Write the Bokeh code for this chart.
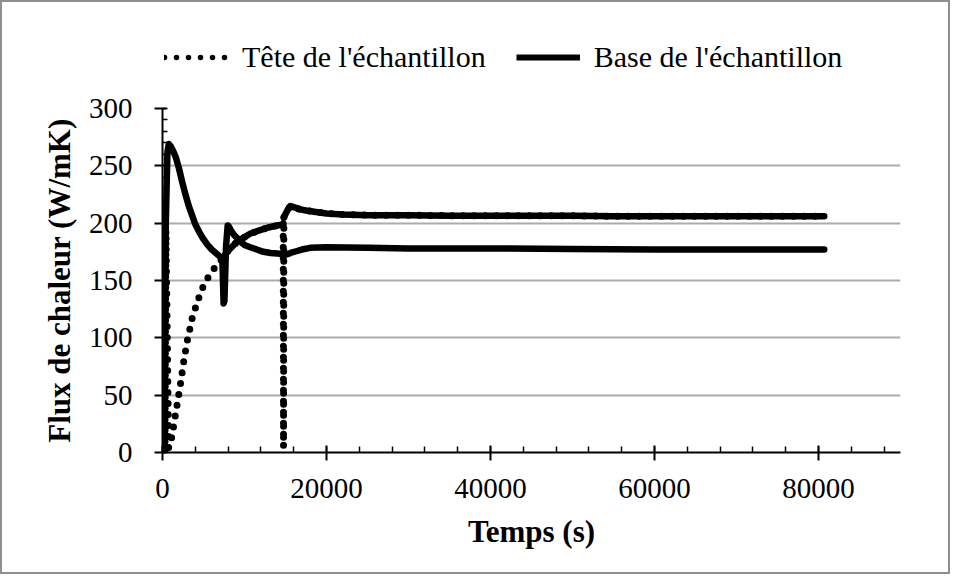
from bokeh.plotting import figure
from bokeh.layouts import column
from bokeh.models import (Range1d, SingleIntervalTicker, BasicTickFormatter,
                          Legend, LegendItem)
from bokeh.embed import file_html
from bokeh.resources import INLINE

# ---- data ----
# "Tête de l'échantillon" (dotted series)
tete_t = [300, 420, 750, 975, 1380, 1790, 2195, 2600, 3010, 3620, 4230, 4840,
          5650, 6670, 7280, 7890, 9110, 10730, 12770, 14000, 14650, 14720,
          14760, 14800, 15000, 15300, 15600, 16000, 16800, 17500, 18500,
          20000, 22000, 25000, 30000, 35000, 40000, 45000, 50000, 55000,
          60000, 65000, 70000, 75000, 80700]
tete_v = [0, 194, 4, 7, 24, 42, 60, 80, 97, 117, 131, 143,
          154, 164, 169, 175, 184, 191, 196, 198, 199, 200,
          5, 205, 208, 212, 215, 214, 212, 211, 210,
          208.5, 207.5, 207, 207, 206.5, 206.5, 206.5, 206.5, 206,
          206, 206, 206, 206, 206]

# "Base de l'échantillon" (solid series)
base_t = [150, 400, 600, 770, 1000, 1300, 1600, 2000, 2400, 2800, 3200, 3600,
          4000, 4500, 5000, 5500, 6000, 6500, 7000, 7300, 7450, 7550, 7750,
          7950, 8100, 8400, 8700, 9100, 9500, 10000, 10700, 11500, 12300,
          13200, 14000, 14700, 15300, 15600, 16300, 17000, 18000, 20000,
          25000, 30000, 40000, 50000, 60000, 70000, 80700]
base_v = [0, 200, 262, 269, 267, 263, 258, 248, 236, 225, 215, 207,
          199, 192, 186, 181, 177, 174, 171, 169, 130, 132, 180,
          198, 197, 193, 190, 187, 184, 181, 179, 177, 175,
          174, 173.5, 173, 173, 174, 175.5, 177, 178.5, 179,
          178.5, 178, 178, 177.5, 177, 177, 177]

labels = ["Tête de l'échantillon", "Base de l'échantillon"]

x_max = 90000
y_max = 300

FONT = "Liberation Serif"

# ---------------- main chart ----------------
p = figure(width=946, height=480, output_backend="svg", toolbar_location=None,
           x_range=Range1d(0, x_max), y_range=Range1d(0, y_max),
           min_border_left=160, min_border_right=48, min_border_top=16,
           min_border_bottom=120)
p.outline_line_color = None
p.background_fill_color = "white"
p.border_fill_color = "white"

p.xgrid.visible = False
p.ygrid.grid_line_color = "#ababab"
p.ygrid.grid_line_width = 2

p.xaxis.ticker = SingleIntervalTicker(interval=20000, num_minor_ticks=5)
p.yaxis.ticker = SingleIntervalTicker(interval=50, num_minor_ticks=5)
p.xaxis.formatter = BasicTickFormatter(use_scientific=False)
for ax in (p.xaxis[0], p.yaxis[0]):
    ax.axis_line_color = "black"
    ax.axis_line_width = 2
    ax.major_tick_line_color = "black"
    ax.major_tick_line_width = 2
    ax.minor_tick_line_color = "black"
    ax.minor_tick_line_width = 1.5
    ax.minor_tick_out = 0
    ax.major_label_text_font = FONT
    ax.major_label_text_font_size = "29px"
    ax.major_label_text_color = "black"
    ax.axis_label_text_font = FONT
    ax.axis_label_text_font_size = "31px"
    ax.axis_label_text_font_style = "bold"
    ax.axis_label_text_color = "black"

p.xaxis.major_tick_in = 7
p.xaxis.major_tick_out = 8
p.xaxis.minor_tick_in = 6
p.xaxis.major_label_standoff = 18
p.xaxis.axis_label = "Temps (s)"
p.xaxis.axis_label_standoff = 13

p.yaxis.major_tick_in = 4
p.yaxis.major_tick_out = 8
p.yaxis.minor_tick_in = 5
p.yaxis.major_label_standoff = 22
p.yaxis.axis_label = "Flux de chaleur (W/mK)"
p.yaxis.axis_label_standoff = 9

p.line(base_t, base_v, line_color="black", line_width=6.5,
       line_join="round", line_cap="round")
p.line(tete_t, tete_v, line_color="black", line_width=7,
       line_dash="0 11", line_cap="round", line_join="round")

# dense (noisy) parts of the head series appear solid in the reference
i_a = next(i for i, t in enumerate(tete_t) if t >= 7280)
i_b = tete_t.index(14720) + 1
i_c = tete_t.index(14800)
p.line(tete_t[i_a:i_b], tete_v[i_a:i_b], line_color="black", line_width=6.5,
       line_join="round", line_cap="round")
p.line(tete_t[i_c:], tete_v[i_c:], line_color="black", line_width=6.5,
       line_join="round", line_cap="round")

# ---------------- legend strip above the chart ----------------
# (its ranges keep the series out of view: only the legend keys show)
leg = figure(width=946, height=90, output_backend="svg", toolbar_location=None,
             x_range=Range1d(0, 1), y_range=Range1d(0, 1),
             x_axis_location=None, y_axis_location=None,
             min_border_left=160, min_border_right=48, min_border_top=0,
             min_border_bottom=0)
leg.grid.visible = False
leg.outline_line_color = None
leg.background_fill_color = "white"
leg.border_fill_color = "white"

k_tete = leg.line(tete_t, tete_v, line_color="black", line_width=5.5,
                  line_dash="0 12", line_cap="round")
k_base = leg.line(base_t, base_v, line_color="black", line_width=6)

legend = Legend(items=[LegendItem(label=labels[0], renderers=[k_tete]),
                       LegendItem(label=labels[1], renderers=[k_base])],
                orientation="horizontal", location=(2, 15),
                border_line_color=None, background_fill_alpha=0,
                label_text_font=FONT, label_text_font_size="30px",
                label_text_color="black",
                glyph_width=64, glyph_height=40, label_height=40,
                label_standoff=14, spacing=30, padding=0, margin=0)
leg.add_layout(legend, "center")

layout = column(leg, p, spacing=0, styles={"border": "2px solid #8f8f8f"})

open("out.html", "w").write(file_html(layout, INLINE))
